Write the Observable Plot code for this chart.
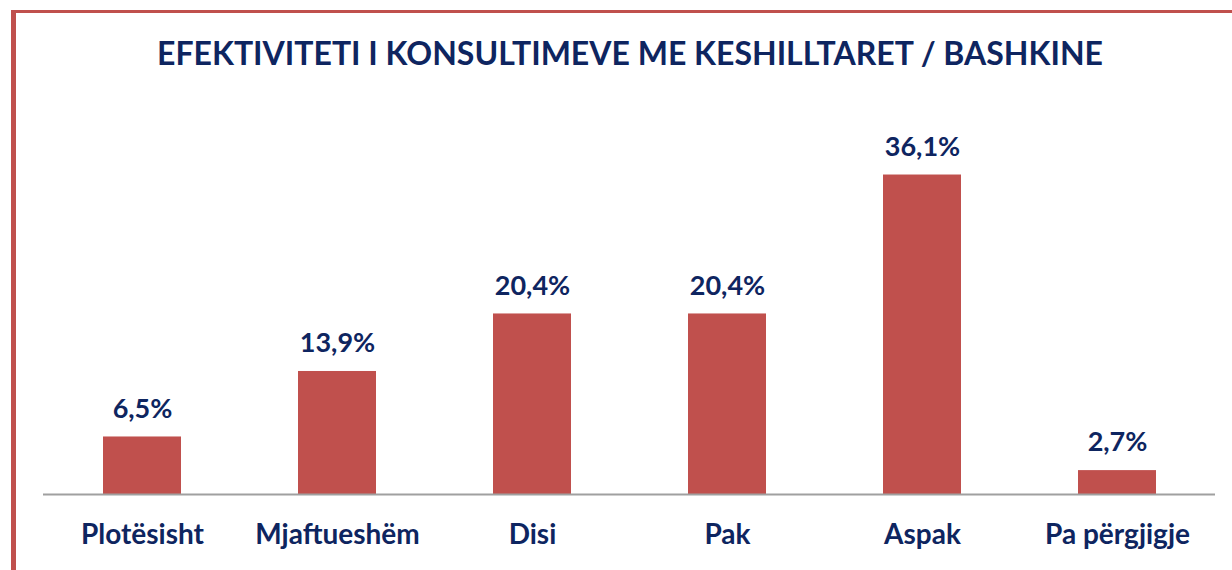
<!DOCTYPE html>
<html>
<head>
<meta charset="utf-8">
<script src="https://cdn.jsdelivr.net/npm/d3@7"></script>
<script src="https://cdn.jsdelivr.net/npm/@observablehq/plot@0.6"></script>
<style>
  html, body { margin: 0; padding: 0; background: #fff; width: 1232px; height: 570px; overflow: hidden; }
  #frame { position: absolute; left: 11px; top: 10px; width: 1400px; height: 800px;
           border-left: 5px solid #C0504D; border-top: 3px solid #C0504D; box-sizing: border-box; }
  #title { position: absolute; left: 14px; top: 0; width: 1232px; height: 95px; text-align: center;
           font-family: Lato, sans-serif; font-weight: 700; color: #0E2560; font-size: 32px;
           line-height: 106px; white-space: nowrap; }
  #chart { position: absolute; left: 0; top: 95px; }
</style>
</head>
<body>
<div id="frame"></div>
<div id="title">EFEKTIVITETI I KONSULTIMEVE ME KESHILLTARET / BASHKINE</div>
<div id="chart"></div>
<script>
const categories = ["Plotësisht", "Mjaftueshëm", "Disi", "Pak", "Aspak", "Pa përgjigje"];
const values = [6.5, 13.9, 20.4, 20.4, 36.1, 2.7];
const valueLabels = ["6,5%", "13,9%", "20,4%", "20,4%", "36,1%", "2,7%"];

const data = categories.map((c, i) => ({category: c, value: values[i], label: valueLabels[i]}));

const navy = "#0E2560";
const plot = Plot.plot({
  width: 1232,
  height: 475,
  marginLeft: 43,
  marginRight: 17,
  marginTop: 45,
  marginBottom: 76,
  style: {fontFamily: "Lato, sans-serif", background: "transparent", overflow: "visible"},
  x: {domain: categories, paddingInner: 0.6, paddingOuter: 0.3, label: null},
  y: {domain: [0, 40], axis: null},
  marks: [
    Plot.barY(data, {x: "category", y: "value", fill: "#C0504D"}),
    Plot.ruleY([0], {stroke: "#A0A0A0", strokeWidth: 2}),
    Plot.text(data, {x: "category", y: "value", text: "label", dy: -28, fill: navy,
                     fontSize: 27, fontWeight: "bold"}),
    Plot.axisX({tickSize: 0, tickPadding: 30, fontSize: 28, fontWeight: "bold", fill: navy, label: null})
  ]
});
document.getElementById("chart").appendChild(plot);
</script>
</body>
</html>
